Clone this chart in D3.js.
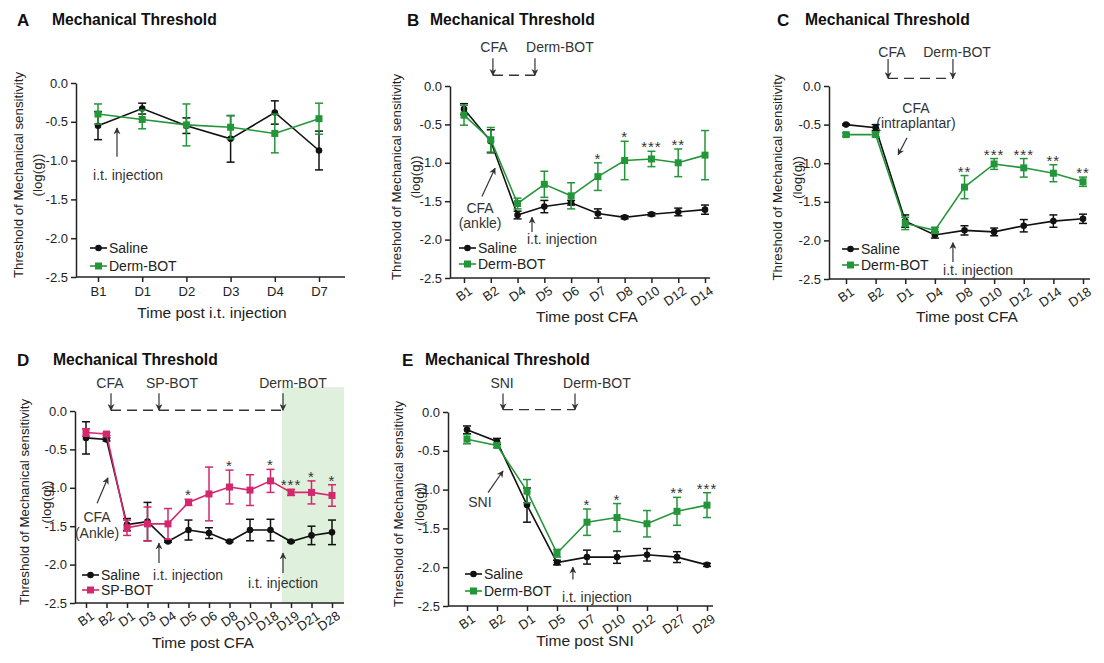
<!DOCTYPE html>
<html>
<head>
<meta charset="utf-8">
<script src="https://cdn.jsdelivr.net/npm/d3@7"></script>
<style>
	body { margin: 0; background: #fff; }
	text { font-family: "Liberation Sans", Arial, sans-serif; }
</style>
</head>
<body>
<div id="chart"></div>
<script>
// ---- data ----
// A: time post i.t. injection
var aDays = ["B1", "D1", "D2", "D3", "D4", "D7"];
var aSaline = [-0.55, -0.33, -0.55, -0.72, -0.38, -0.87];
var aSalineErr = [0.18, 0.07, 0.10, 0.30, 0.15, 0.25];
var aBot = [-0.40, -0.47, -0.54, -0.57, -0.65, -0.46];
var aBotErr = [0.13, 0.12, 0.27, 0.15, 0.25, 0.20];

// B: CFA ankle
var bDays = ["B1", "B2", "D4", "D5", "D6", "D7", "D8", "D10", "D12", "D14"];
var bSaline = [-0.30, -0.72, -1.68, -1.57, -1.52, -1.66, -1.71, -1.67, -1.64, -1.61];
var bSalineErr = [0.07, 0.15, 0.05, 0.08, 0.03, 0.06, 0.02, 0.02, 0.05, 0.06];
var bBot = [-0.38, -0.70, -1.53, -1.28, -1.43, -1.18, -0.97, -0.95, -1.00, -0.90];
var bBotErr = [0.13, 0.16, 0.07, 0.17, 0.17, 0.18, 0.25, 0.10, 0.18, 0.32];
var bStars = ["", "", "", "", "", "*", "*", "***", "**", ""];

// C: CFA intraplantar
var cDays = ["B1", "B2", "D1", "D4", "D8", "D10", "D12", "D14", "D18"];
var cSaline = [-0.50, -0.54, -1.75, -1.93, -1.87, -1.89, -1.81, -1.75, -1.72];
var cSalineErr = [0.01, 0.04, 0.08, 0.04, 0.06, 0.05, 0.08, 0.08, 0.06];
var cBot = [-0.63, -0.63, -1.78, -1.87, -1.31, -1.01, -1.06, -1.13, -1.24];
var cBotErr = [0.02, 0.03, 0.08, 0.04, 0.15, 0.07, 0.12, 0.11, 0.06];
var cStars = ["", "", "", "", "**", "***", "***", "**", "**"];

// D: SP-BOT then Derm-BOT
var dDays = ["B1", "B2", "D1", "D3", "D4", "D5", "D6", "D8", "D10", "D18", "D19", "D21", "D28"];
var dSaline = [-0.35, -0.37, -1.48, -1.44, -1.70, -1.55, -1.59, -1.70, -1.55, -1.55, -1.70, -1.62, -1.58];
var dSalineErr = [0.21, 0.02, 0.08, 0.25, 0.01, 0.13, 0.07, 0.01, 0.14, 0.14, 0.01, 0.12, 0.16];
var dBot = [-0.28, -0.30, -1.52, -1.47, -1.47, -1.19, -1.08, -0.99, -1.03, -0.91, -1.06, -1.06, -1.10];
var dBotErr = [0.05, 0.02, 0.10, 0.22, 0.20, 0.04, 0.35, 0.22, 0.20, 0.15, 0.04, 0.15, 0.14];
var dStars = ["", "", "", "", "", "*", "", "*", "", "*", "***", "*", "*"];

// E: SNI
var eDays = ["B1", "B2", "D1", "D5", "D7", "D10", "D12", "D27", "D29"];
var eSaline = [-0.23, -0.38, -1.20, -1.94, -1.87, -1.87, -1.84, -1.87, -1.97];
var eSalineErr = [0.05, 0.04, 0.22, 0.03, 0.09, 0.08, 0.08, 0.07, 0.02];
var eBot = [-0.35, -0.43, -1.02, -1.82, -1.42, -1.36, -1.44, -1.28, -1.20];
var eBotErr = [0.06, 0.03, 0.15, 0.05, 0.17, 0.18, 0.17, 0.18, 0.16];
var eStars = ["", "", "", "", "*", "*", "", "**", "***"];

var yTicks = [0, -0.5, -1, -1.5, -2, -2.5];

var green = "#23963a";
var pink = "#d4286e";
var ink = "#333";

var panels = [
	{ letter: "A", days: aDays, s: aSaline, se: aSalineErr, t: aBot, te: aBotErr, stars: null,
		tName: "Derm-BOT", tColor: green, x0: 76, xEnd: 345, first: 98, last: 319, yTop: 83, yBot: 277,
		rotate: false, xTitle: "Time post i.t. injection", xTitleX: 212, xTitleY: 318, titleY: 20, letterX: 17, titleX: 52,
		yLab1: 18, yLab2: 37, legX: 90, legY: [248, 266],
		texts: [{ i: 0.68, v: -1.19, t: "i.t. injection" }],
		arrows: [{ i1: 0.43, v1: -0.95, i2: 0.43, v2: -0.58 }] },
	{ letter: "B", days: bDays, s: bSaline, se: bSalineErr, t: bBot, te: bBotErr, stars: bStars,
		tName: "Derm-BOT", tColor: green, x0: 450, xEnd: 710, first: 464, last: 705, yTop: 86, yBot: 278,
		rotate: true, xTitle: "Time post CFA", xTitleX: 587, xTitleY: 322, titleY: 20, letterX: 407, titleX: 430,
		yLab1: 396, yLab2: 415, legX: 459, legY: [248, 264],
		bracket: { is: [1.08, 2.65], v1: 0.36, v2: 0.14, vText: 0.51, labels: [{ i: 1.12, t: "CFA" }, { i: 3.58, t: "Derm-BOT" }] },
		texts: [{ i: 0.6, v: -1.59, t: "CFA" }, { i: 0.6, v: -1.78, t: "(ankle)" }, { i: 3.66, v: -1.99, t: "i.t. injection" }],
		arrows: [{ i1: 0.67, v1: -1.44, i2: 1.16, v2: -1.07 }, { i1: 2.54, v1: -1.90, i2: 2.54, v2: -1.71 }] },
	{ letter: "C", days: cDays, s: cSaline, se: cSalineErr, t: cBot, te: cBotErr, stars: cStars,
		tName: "Derm-BOT", tColor: green, x0: 829, xEnd: 1090, first: 846, last: 1083, yTop: 86, yBot: 279,
		rotate: true, xTitle: "Time post CFA", xTitleX: 967, xTitleY: 322, titleY: 20, letterX: 777, titleX: 805,
		yLab1: 777, yLab2: 797, legX: 842, legY: [249, 265],
		bracket: { is: [1.42, 3.61], v1: 0.35, v2: 0.10, vText: 0.44, labels: [{ i: 1.55, t: "CFA" }, { i: 3.75, t: "Derm-BOT" }] },
		texts: [{ i: 2.36, v: -0.28, t: "CFA" }, { i: 2.36, v: -0.48, t: "(intraplantar)" }, { i: 4.46, v: -2.38, t: "i.t. injection" }],
		arrows: [{ i1: 2.06, v1: -0.67, i2: 1.76, v2: -0.89 }, { i1: 3.61, v1: -2.28, i2: 3.61, v2: -2.03 }] },
	{ letter: "D", days: dDays, s: dSaline, se: dSalineErr, t: dBot, te: dBotErr, stars: dStars,
		tName: "SP-BOT", tColor: pink, x0: 75, xEnd: 344, first: 86, last: 332, yTop: 411, yBot: 603,
		rotate: true, xTitle: "Time post CFA", xTitleX: 203, xTitleY: 648, titleY: 360, letterX: 17, titleX: 53,
		yLab1: 24, yLab2: 46, legX: 82, legY: [575, 590],
		shade: { i: 9.56, v: 0.31 },
		bracket: { is: [1.22, 3.56, 9.61], v1: 0.23, v2: 0.01, vText: 0.36,
			labels: [{ i: 1.17, t: "CFA" }, { i: 4.2, t: "SP-BOT" }, { i: 10.1, t: "Derm-BOT" }] },
		texts: [{ i: 0.54, v: -1.38, t: "CFA" }, { i: 0.54, v: -1.59, t: "(Ankle)" },
			{ i: 4.98, v: -2.14, t: "i.t. injection" }, { i: 9.61, v: -2.24, t: "i.t. injection" }],
		arrows: [{ i1: 0.54, v1: -1.20, i2: 1.07, v2: -0.87 }, { i1: 3.56, v1: -1.98, i2: 3.56, v2: -1.72 },
			{ i1: 9.61, v1: -2.11, i2: 9.61, v2: -1.85 }] },
	{ letter: "E", days: eDays, s: eSaline, se: eSalineErr, t: eBot, te: eBotErr, stars: eStars,
		tName: "Derm-BOT", tColor: green, x0: 448, xEnd: 713, first: 467, last: 707, yTop: 412, yBot: 606,
		rotate: true, xTitle: "Time post SNI", xTitleX: 585, xTitleY: 646, titleY: 360, letterX: 402, titleX: 425,
		yLab1: 398, yLab2: 419, legX: 465, legY: [574, 591],
		bracket: { is: [1.2, 3.6], v1: 0.24, v2: 0.03, vText: 0.37, labels: [{ i: 1.17, t: "SNI" }, { i: 4.33, t: "Derm-BOT" }] },
		texts: [{ i: 0.43, v: -1.16, t: "SNI" }, { i: 4.33, v: -2.38, t: "i.t. injection" }],
		arrows: [{ i1: 0.7, v1: -1.04, i2: 1.2, v2: -0.76 }, { i1: 3.53, v1: -2.16, i2: 3.53, v2: -2.0 }] }
];

var svg = d3.select("#chart").append("svg")
	.attr("width", 1104)
	.attr("height", 663);

svg.append("rect").attr("width", 1104).attr("height", 663).attr("fill", "#fff");

// arrowhead
svg.append("defs").append("marker")
	.attr("id", "head")
	.attr("viewBox", "0 0 10 10")
	.attr("refX", 9)
	.attr("refY", 5)
	.attr("markerWidth", 7)
	.attr("markerHeight", 7)
	.attr("markerUnits", "userSpaceOnUse")
	.attr("orient", "auto")
	.append("path")
	.attr("d", "M0,0 L10,5 L0,10 L3,5 Z")
	.attr("fill", ink);

panels.forEach(drawPanel);

function drawPanel(p) {
	var g = svg.append("g");
	var x = d3.scalePoint().domain(p.days).range([p.first, p.last]);
	var y = d3.scaleLinear().domain([-2.5, 0]).range([p.yBot, p.yTop]);
	var step = (p.last - p.first) / (p.days.length - 1);
	var xi = function(i) { return p.first + i * step; };

	// green area for the Derm-BOT period
	if (p.shade) {
		g.append("rect")
			.attr("x", xi(p.shade.i))
			.attr("y", y(p.shade.v))
			.attr("width", p.xEnd - xi(p.shade.i))
			.attr("height", p.yBot - y(p.shade.v))
			.attr("fill", "#dff0dc");
	}

	// titles
	g.append("text").text(p.letter)
		.attr("x", p.letterX).attr("y", p.titleY).attr("dy", "0.35em")
		.style("font-size", "17px").style("font-weight", "bold").attr("fill", "#111");
	g.append("text").text("Mechanical Threshold")
		.attr("x", p.titleX).attr("y", p.titleY).attr("dy", "0.35em")
		.style("font-size", "15.7px").style("font-weight", "bold").attr("fill", "#111");

	// y axis
	var yAxis = d3.axisLeft(y)
		.tickValues(yTicks)
		.tickSize(5)
		.tickSizeOuter(0)
		.tickFormat(function(d) { return d === 0 ? "0.0" : d.toFixed(1); });
	var ya = g.append("g").attr("transform", "translate(" + p.x0 + ",0)").call(yAxis);
	ya.selectAll("path, line").attr("stroke", "#222").attr("stroke-width", 1.5);
	ya.selectAll("text").style("font-size", "13px").attr("fill", "#222").attr("x", -8);

	// x axis
	g.append("line")
		.attr("x1", p.x0).attr("x2", p.xEnd)
		.attr("y1", p.yBot).attr("y2", p.yBot)
		.attr("stroke", "#222").attr("stroke-width", 1.5);
	var xa = g.append("g").attr("transform", "translate(0," + p.yBot + ")")
		.call(d3.axisBottom(x).tickSize(5).tickSizeOuter(0));
	xa.select(".domain").remove();
	xa.selectAll("line").attr("stroke", "#222").attr("stroke-width", 1.5);
	xa.selectAll("text").style("font-size", "13px").attr("fill", "#222");
	if (p.rotate) {
		xa.selectAll("text")
			.attr("x", 0).attr("y", 0).attr("dy", "0.35em")
			.attr("text-anchor", "end")
			.attr("transform", "translate(6,11) rotate(-35)");
	} else {
		xa.selectAll("text").attr("y", 10);
	}

	g.append("text").text(p.xTitle)
		.attr("x", p.xTitleX).attr("y", p.xTitleY)
		.attr("text-anchor", "middle")
		.style("font-size", "15.5px").attr("fill", "#222");

	// y label
	var yMid = (p.yTop + p.yBot) / 2 - 5;
	g.append("text").text("Threshold of Mechanical sensitivity")
		.attr("transform", "translate(" + p.yLab1 + "," + yMid + ") rotate(-90)")
		.attr("text-anchor", "middle").attr("dy", "0.35em")
		.style("font-size", "13.3px").attr("fill", "#222");
	g.append("text").text("(log(g))")
		.attr("transform", "translate(" + p.yLab2 + "," + yMid + ") rotate(-90)")
		.attr("text-anchor", "middle").attr("dy", "0.35em")
		.style("font-size", "13.3px").attr("fill", "#222");

	// annotations above the plot
	if (p.bracket) {
		var b = p.bracket;
		b.labels.forEach(function(l) {
			g.append("text").text(l.t)
				.attr("x", xi(l.i)).attr("y", y(b.vText)).attr("dy", "0.35em")
				.attr("text-anchor", "middle")
				.style("font-size", "14px").attr("fill", ink);
		});
		g.append("line")
			.attr("x1", xi(b.is[0])).attr("x2", xi(b.is[b.is.length - 1]))
			.attr("y1", y(b.v2)).attr("y2", y(b.v2))
			.attr("stroke", ink).attr("stroke-width", 1.3)
			.attr("stroke-dasharray", "10,6");
		b.is.forEach(function(i) {
			g.append("line")
				.attr("x1", xi(i)).attr("x2", xi(i))
				.attr("y1", y(b.v1)).attr("y2", y(b.v2))
				.attr("stroke", ink).attr("stroke-width", 1.2)
				.attr("marker-end", "url(#head)");
		});
	}

	p.texts.forEach(function(tx) {
		g.append("text").text(tx.t)
			.attr("x", xi(tx.i)).attr("y", y(tx.v)).attr("dy", "0.35em")
			.attr("text-anchor", "middle")
			.style("font-size", "14px").attr("fill", ink);
	});
	p.arrows.forEach(function(a) {
		g.append("line")
			.attr("x1", xi(a.i1)).attr("y1", y(a.v1))
			.attr("x2", xi(a.i2)).attr("y2", y(a.v2))
			.attr("stroke", ink).attr("stroke-width", 1.2)
			.attr("marker-end", "url(#head)");
	});

	// series
	var series = [
		{ mean: p.s, err: p.se, color: "#111", shape: "circle" },
		{ mean: p.t, err: p.te, color: p.tColor, shape: "square" }
	];
	var line = d3.line()
		.x(function(d, i) { return x(p.days[i]); })
		.y(function(d) { return y(d); });

	series.forEach(function(s) {
		var sg = g.append("g");
		sg.append("path")
			.attr("d", line(s.mean))
			.attr("fill", "none")
			.attr("stroke", s.color)
			.attr("stroke-width", 1.6);

		s.mean.forEach(function(m, i) {
			var cx = x(p.days[i]);
			var top = y(m + s.err[i]);
			var bot = y(m - s.err[i]);
			sg.append("line").attr("x1", cx).attr("x2", cx).attr("y1", top).attr("y2", bot)
				.attr("stroke", s.color).attr("stroke-width", 1.5);
			sg.append("line").attr("x1", cx - 4).attr("x2", cx + 4).attr("y1", top).attr("y2", top)
				.attr("stroke", s.color).attr("stroke-width", 1.5);
			sg.append("line").attr("x1", cx - 4).attr("x2", cx + 4).attr("y1", bot).attr("y2", bot)
				.attr("stroke", s.color).attr("stroke-width", 1.5);
			if (s.shape === "circle") {
				sg.append("circle").attr("cx", cx).attr("cy", y(m)).attr("r", 3.3).attr("fill", s.color);
			} else {
				sg.append("rect").attr("x", cx - 3.5).attr("y", y(m) - 3.5)
					.attr("width", 7).attr("height", 7).attr("fill", s.color);
			}
		});
	});

	// significance stars
	if (p.stars) {
		p.stars.forEach(function(st, i) {
			if (!st) return;
			g.append("text").text(st)
				.attr("x", x(p.days[i]))
				.attr("y", y(p.t[i] + p.te[i]) + 1)
				.attr("text-anchor", "middle")
				.style("font-size", "15px").style("letter-spacing", "1px").attr("fill", ink);
		});
	}

	// legend
	var names = ["Saline", p.tName];
	names.forEach(function(n, k) {
		var ly = p.legY[k];
		var c = k === 0 ? "#111" : p.tColor;
		g.append("line").attr("x1", p.legX).attr("x2", p.legX + 17).attr("y1", ly).attr("y2", ly)
			.attr("stroke", c).attr("stroke-width", 1.6);
		if (k === 0) {
			g.append("circle").attr("cx", p.legX + 8.5).attr("cy", ly).attr("r", 3.3).attr("fill", c);
		} else {
			g.append("rect").attr("x", p.legX + 5).attr("y", ly - 3.5).attr("width", 7).attr("height", 7).attr("fill", c);
		}
		g.append("text").text(n)
			.attr("x", p.legX + 19).attr("y", ly).attr("dy", "0.35em")
			.style("font-size", "14px").attr("fill", "#222");
	});
}
</script>
</body>
</html>
